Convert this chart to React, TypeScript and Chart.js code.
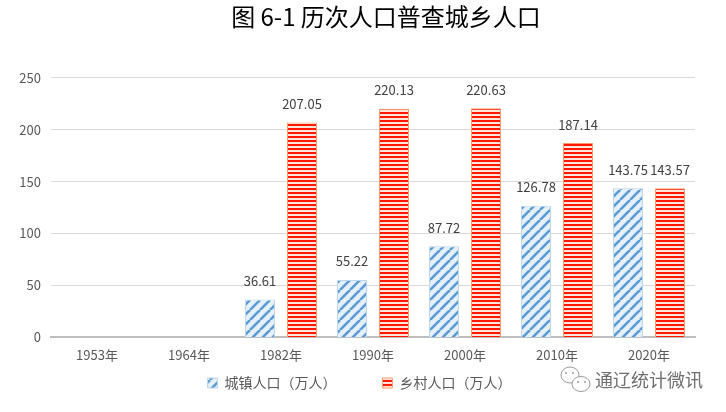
import React, { useEffect, useRef } from 'react';
import Chart from 'chart.js/auto';

const years = ['1953年', '1964年', '1982年', '1990年', '2000年', '2010年', '2020年'];
const urban = [null, null, 36.61, 55.22, 87.72, 126.78, 143.75];
const rural = [null, null, 207.05, 220.13, 220.63, 187.14, 143.57];
const urbanName = '城镇人口（万人）';
const ruralName = '乡村人口（万人）';
const titleText = '图 6-1 历次人口普查城乡人口';
const watermark = '通辽统计微讯';
const FONT = '"Noto Sans CJK SC", "Noto Sans", sans-serif';

const makeBluePattern = (ctx: CanvasRenderingContext2D) => {
  const c = document.createElement('canvas');
  c.width = 10;
  c.height = 10;
  const p = c.getContext('2d')!;
  p.fillStyle = '#e6f0fa';
  p.fillRect(0, 0, 10, 10);
  p.strokeStyle = '#5b9bd5';
  p.lineWidth = 2.6;
  for (let i = -10; i <= 20; i += 10) {
    p.beginPath();
    p.moveTo(i, 10);
    p.lineTo(i + 10, 0);
    p.stroke();
  }
  return ctx.createPattern(c, 'repeat')!;
};

const makeRedPattern = (ctx: CanvasRenderingContext2D) => {
  const c = document.createElement('canvas');
  c.width = 4;
  c.height = 4;
  const p = c.getContext('2d')!;
  p.fillStyle = '#ffe6da';
  p.fillRect(0, 0, 4, 4);
  p.fillStyle = '#ff1a00';
  p.fillRect(0, 0, 4, 2);
  return ctx.createPattern(c, 'repeat')!;
};

const App = () => {
  const ref = useRef<HTMLCanvasElement>(null);

  useEffect(() => {
    document.body.style.margin = '0';
    const ctx = ref.current?.getContext('2d');
    if (!ctx) return;
    const chart = new Chart(ctx, {
      type: 'bar',
      data: {
        labels: years,
        datasets: [
          {
            label: urbanName,
            data: urban,
            backgroundColor: makeBluePattern(ctx),
            borderColor: '#bdd7ee',
            borderWidth: 1,
          },
          {
            label: ruralName,
            data: rural,
            backgroundColor: makeRedPattern(ctx),
            borderColor: '#ff9a70',
            borderWidth: 1,
          },
        ],
      },
      options: {
        responsive: false,
        animation: false,
        layout: { padding: { left: 0, right: 31, top: 0, bottom: 12 } },
        datasets: { bar: { categoryPercentage: 0.913, barPercentage: 0.714 } },
        scales: {
          x: {
            afterFit: (s: any) => {
              s.height += 3;
            },
            grid: { display: false },
            border: { color: '#bfbfbf', width: 2 },
            ticks: { color: '#595959', font: { family: FONT, size: 13 }, maxRotation: 0, padding: 2 },
          },
          y: {
            min: 0,
            max: 250,
            afterFit: (s: any) => {
              s.width = 51;
            },
            grid: { color: '#d9d9d9', drawTicks: false },
            border: { display: false },
            ticks: { stepSize: 50, color: '#595959', padding: 10, font: { family: FONT, size: 13 } },
          },
        },
        plugins: {
          title: {
            display: true,
            text: titleText,
            color: '#000000',
            font: { family: FONT, size: 24, weight: 'normal' },
            padding: { top: 2, bottom: 47 },
          },
          legend: {
            position: 'bottom',
            labels: {
              boxWidth: 10,
              boxHeight: 10,
              padding: 8,
              color: '#595959',
              font: { family: FONT, size: 14 },
              generateLabels: (c: any) =>
                Chart.defaults.plugins.legend.labels.generateLabels(c).map((item: any, i: number) => ({
                  ...item,
                  text: i === 0 ? item.text + '　　　\u2009' : item.text,
                })),
            },
          },
          tooltip: { enabled: false },
        },
      },
      plugins: [
        {
          id: 'placeBlocks',
          afterLayout: (c: any) => {
            // title and legend are not centred on the canvas in the original
            c.titleBlock.left = 46;
            c.titleBlock.right = 726;
            c.legend.left = 0;
            c.legend.right = 719;
          },
        },
        {
          id: 'valueLabels',
          afterDatasetsDraw: (c: any) => {
            const g = c.ctx;
            g.save();
            g.font = `13px ${FONT}`;
            g.fillStyle = '#404040';
            g.textAlign = 'center';
            g.textBaseline = 'bottom';
            c.data.datasets.forEach((ds: any, i: number) => {
              c.getDatasetMeta(i).data.forEach((bar: any, j: number) => {
                const v = ds.data[j];
                if (v == null) return;
                g.fillText(v.toFixed(2), bar.x, bar.y - 12);
              });
            });
            g.restore();
          },
        },
        {
          id: 'watermark',
          afterDraw: (c: any) => {
            const g = c.ctx;
            g.save();
            g.strokeStyle = '#9a9a9a';
            g.lineWidth = 1;
            g.beginPath();
            g.ellipse(570, 375, 9, 8, 0, 0, Math.PI * 2);
            g.stroke();
            g.beginPath();
            g.ellipse(581, 384, 9, 7.5, 0, 0, Math.PI * 2);
            g.fillStyle = '#ffffff';
            g.fill();
            g.stroke();
            g.fillStyle = '#9a9a9a';
            [[566, 373], [573, 373], [578, 382], [585, 382]].forEach(([x, y]) => {
              g.beginPath();
              g.arc(x, y, 1, 0, Math.PI * 2);
              g.fill();
            });
            g.font = `18px ${FONT}`;
            g.fillStyle = '#6e6e6e';
            g.textAlign = 'left';
            g.textBaseline = 'middle';
            g.fillText(watermark, 595, 380);
            g.restore();
          },
        },
      ],
    } as any);
    return () => chart.destroy();
  }, []);

  return <canvas ref={ref} width={726} height={412} style={{ display: 'block' }} />;
};

export default App;
